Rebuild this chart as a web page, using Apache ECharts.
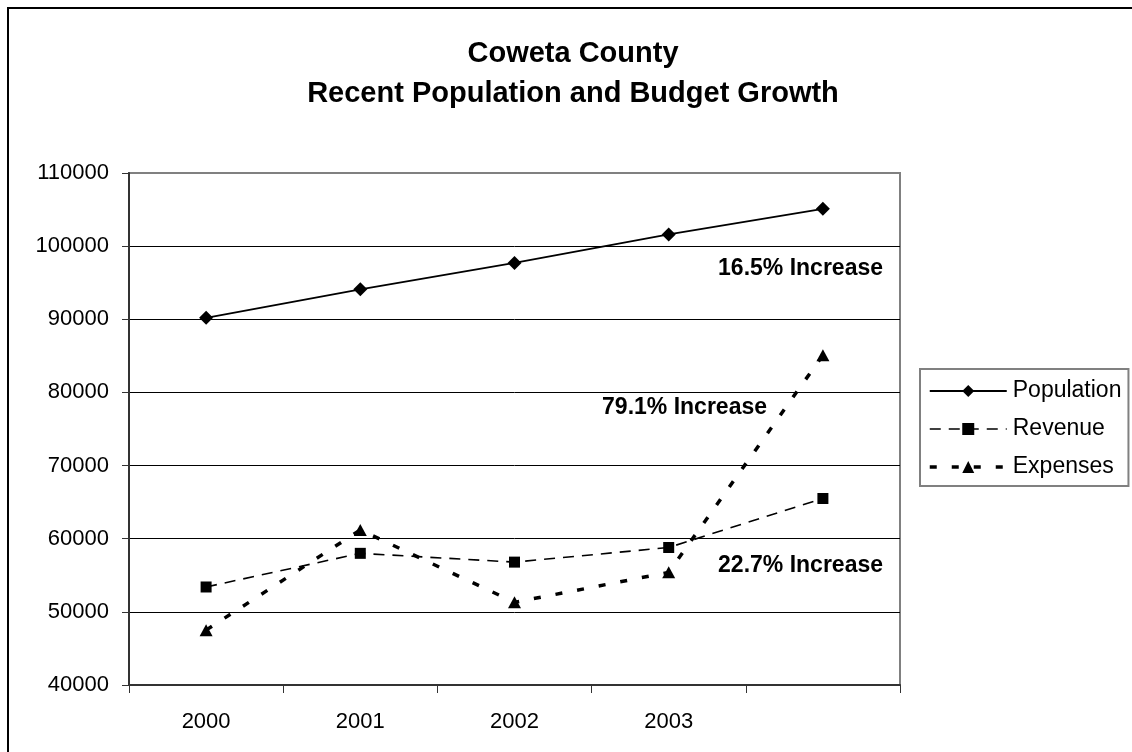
<!DOCTYPE html>
<html>
<head>
<meta charset="utf-8">
<title>Coweta County – Recent Population and Budget Growth</title>
<script src="https://cdn.jsdelivr.net/npm/echarts@6/dist/echarts.min.js"></script>
<style>
  html, body { margin: 0; padding: 0; background: #ffffff; }
  #chart { width: 1132px; height: 752px; }
</style>
</head>
<body>
<div id="chart"></div>
<script>
// Category labels (the fifth slot is the current year, left unlabelled)
const years = ['2000', '2001', '2002', '2003', ''];

// Series values
const population = [90200, 94100, 97700, 101600, 105100];
const revenue    = [53400, 58000, 56800, 58800, 65500];
const expenses   = [47500, 61200, 51300, 55400, 85100];

// Value axis range
const yMin = 40000;
const yMax = 110000;
const yStep = 10000;

// Title lines and growth notes
const titleLines = ['Coweta County', 'Recent Population and Budget Growth'];
const growthNotes = ['16.5% Increase', '79.1% Increase', '22.7% Increase'];

const FONT = '"Liberation Sans", Arial, Helvetica, sans-serif';

const chart = echarts.init(document.getElementById('chart'), null, { renderer: 'canvas' });

const noteStyle = (text) => ({
  text: text,
  align: 'right',
  verticalAlign: 'middle',
  fontFamily: FONT,
  fontSize: 23,
  fontWeight: 'bold',
  fill: '#000'
});

const option = {
  backgroundColor: '#ffffff',
  animation: false,
  title: {
    text: titleLines.join('\n'),
    left: 568,
    top: 29,
    textAlign: 'center',
    textStyle: {
      fontFamily: FONT,
      fontSize: 29,
      fontWeight: 'bold',
      color: '#000',
      lineHeight: 40
    }
  },
  legend: {
    orient: 'vertical',
    left: 920,
    top: 369,
    padding: [9, 7, 6, 8],
    itemWidth: 77,
    itemHeight: 15,
    itemGap: 12,
    borderColor: '#808080',
    borderWidth: 2,
    backgroundColor: '#ffffff',
    lineStyle: { width: 'inherit', type: 'inherit' },
    textStyle: {
      fontFamily: FONT,
      fontSize: 23,
      color: '#000',
      lineHeight: 26,
      padding: [0, 0, 0, 1]
    },
    data: ['Population', 'Revenue', 'Expenses']
  },
  grid: {
    left: 129,
    right: 232,
    top: 173,
    bottom: 67,
    show: true,
    borderColor: '#808080',
    borderWidth: 2,
    backgroundColor: '#ffffff'
  },
  xAxis: {
    type: 'category',
    data: years,
    boundaryGap: true,
    axisLine: { lineStyle: { color: '#333', width: 2 } },
    axisTick: { show: true, inside: false, length: 8, interval: 0, lineStyle: { color: '#333', width: 1 } },
    axisLabel: { interval: 0, margin: 26, fontFamily: FONT, fontSize: 22, color: '#000' },
    splitLine: { show: false }
  },
  yAxis: {
    type: 'value',
    min: yMin,
    max: yMax,
    interval: yStep,
    axisLine: { show: true, lineStyle: { color: '#333', width: 2 } },
    axisTick: { show: true, inside: false, length: 7, lineStyle: { color: '#333', width: 1 } },
    axisLabel: {
      margin: 20,
      fontFamily: FONT,
      fontSize: 22,
      color: '#000',
      formatter: (v) => String(v)
    },
    splitLine: { show: true, showMinLine: false, showMaxLine: false, lineStyle: { color: '#000', width: 1 } }
  },
  series: [
    {
      name: 'Population',
      type: 'line',
      data: population,
      symbol: 'diamond',
      symbolSize: 14,
      itemStyle: { color: '#000' },
      lineStyle: { color: '#000', width: 1.8, type: 'solid' },
      z: 4
    },
    {
      name: 'Revenue',
      type: 'line',
      data: revenue,
      symbol: 'rect',
      symbolSize: 11,
      itemStyle: { color: '#000' },
      lineStyle: { color: '#000', width: 1.6, type: [11, 8] },
      z: 3
    },
    {
      name: 'Expenses',
      type: 'line',
      data: expenses,
      symbol: 'triangle',
      symbolSize: [13, 12],
      itemStyle: { color: '#000' },
      lineStyle: { color: '#000', width: 3.5, type: [7, 15] },
      z: 3
    }
  ],
  graphic: [
    // chart-area frame
    {
      type: 'rect',
      silent: true,
      z: -10,
      shape: { x: 8, y: 8, width: 1200, height: 800 },
      style: { fill: 'none', stroke: '#000', lineWidth: 2 }
    },
    { type: 'text', x: 883, y: 269, z: 10, style: noteStyle(growthNotes[0]) },
    { type: 'text', x: 767, y: 408, z: 10, style: noteStyle(growthNotes[1]) },
    { type: 'text', x: 883, y: 566, z: 10, style: noteStyle(growthNotes[2]) }
  ]
};

chart.setOption(option);
</script>
</body>
</html>
